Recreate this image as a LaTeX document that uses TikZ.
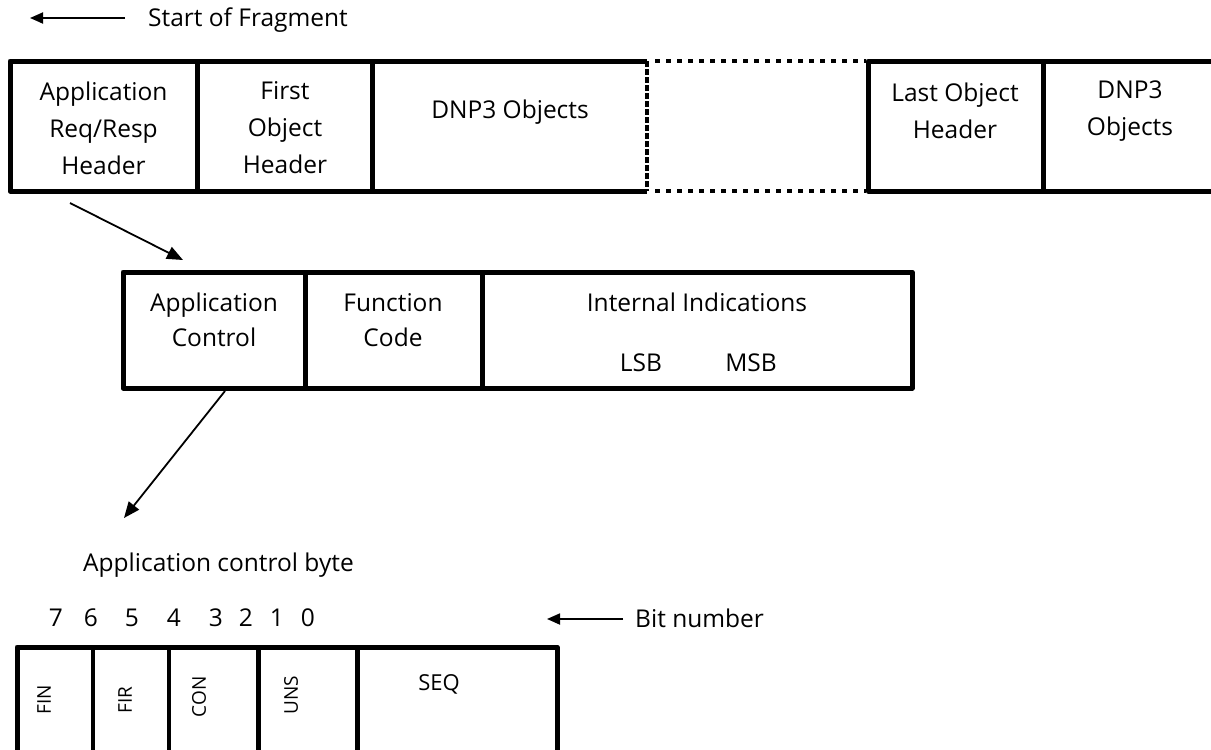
\documentclass[tikz,border=0pt]{standalone}
\usepackage{fontspec}
\setmainfont{Open Sans}
\usetikzlibrary{arrows.meta}
\begin{document}
\begin{tikzpicture}[x=1pt,y=-1pt,
  outer/.style={line width=5pt, line join=round},
  divider/.style={line width=5pt},
  thindiv/.style={line width=3.5pt},
  dotline/.style={line width=4.5pt, dash pattern=on 4.5pt off 6.5pt},
  densedot/.style={line width=4.5pt, dash pattern=on 6pt off 2pt},
  lbl/.style={font=\fontsize{24.5}{37}\selectfont, align=center, inner sep=0pt},
  lblb/.style={font=\fontsize{24.5}{35}\selectfont, align=center, inner sep=0pt},
  small/.style={font=\fontsize{19}{22}\selectfont, inner sep=0pt, rotate=90},
  seqlbl/.style={font=\fontsize{22}{26}\selectfont, inner sep=0pt},
  arr/.style={line width=1.8pt, -{Triangle[length=16pt,width=13pt]}},
  sarr/.style={line width=1.8pt, -{Triangle[length=13pt,width=11pt]}}]
\useasboundingbox (0,0) rectangle (1211,750);
\clip (0,0) rectangle (1211,750);

% Start of fragment
\coordinate (sfa) at (125,18);
\coordinate (sfb) at (30,18);
\draw[sarr] (sfa) -- (sfb);
\node[lbl, anchor=west] (sf) at (148,20) {Start of Fragment};

% top row
\draw[outer] (647,61) -- (10,61) -- (10,191) -- (647,191);
\draw[densedot] (647,61) -- (647,191);
\draw[dotline] (655,61) -- (866,61);
\draw[dotline] (655,191) -- (866,191);
\draw[outer] (1225,61) -- (868,61) -- (868,191) -- (1225,191);
\draw[divider] (197,61) -- (197,191);
\draw[divider] (372,61) -- (372,191);
\draw[divider] (1043,61) -- (1043,191);
\node[lbl] (t1) at (103.5,128) {Application\\Req/Resp\\Header};
\node[lbl] (t2) at (285,128) {First\\Object\\Header};
\node[lbl] (t3) at (510,112) {DNP3 Objects};
\node[lbl] (t4) at (955,111) {Last Object\\Header};
\node[lbl] (t5) at (1130,111) {DNP3\\Objects};

% arrow 1
\coordinate (a1s) at (70,203);
\coordinate (a1e) at (183,260);
\draw[arr] (a1s) -- (a1e);

% middle row
\draw[outer] (123,272) rectangle (912,388);
\draw[divider] (305,272) -- (305,388);
\draw[divider] (482,272) -- (482,388);
\node[lblb] (m1) at (214,320) {Application\\Control};
\node[lblb] (m2) at (393,320) {Function\\Code};
\node[lbl] (m3) at (697,302) {Internal Indications};
\node[lbl] (lsb) at (641,363) {LSB};
\node[lbl] (msb) at (751,363) {MSB};

% arrow 2
\coordinate (a2s) at (225,391);
\coordinate (a2e) at (124,518);
\draw[arr] (a2s) -- (a2e);

\node[lbl, anchor=west] (acb) at (83,565) {Application control byte};

% bit numbers
\foreach \n/\x in {7/56,6/91,5/132,4/174,3/216,2/246,1/277,0/308}
  \node[lbl] (b\n) at (\x,618) {\n};
\coordinate (bna) at (623,619);
\coordinate (bnb) at (547,619);
\draw[sarr] (bna) -- (bnb);
\node[lbl, anchor=west] (bn) at (635,618) {Bit number};

% bottom box
\draw[outer] (17,770) -- (17,647) -- (557,647) -- (557,770);
\draw[thindiv] (93,647) -- (93,770);
\draw[thindiv] (169,647) -- (169,770);
\draw[divider] (258,647) -- (258,770);
\draw[divider] (357,647) -- (357,770);
\node[small] (fin) at (44,700) {FIN};
\node[small] (fir) at (125,700) {FIR};
\node[small] (con) at (199,697) {CON};
\node[small] (uns) at (291,695) {UNS};
\node[seqlbl] (seq) at (439,684) {SEQ};
\end{tikzpicture}
\end{document}
